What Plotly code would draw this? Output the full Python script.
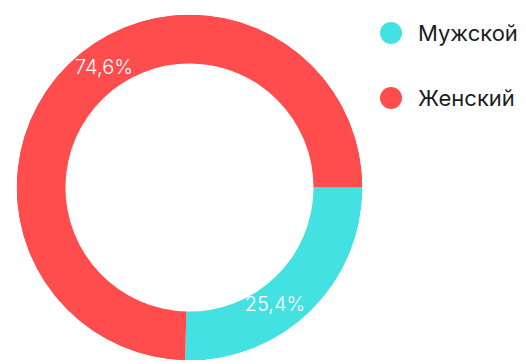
import plotly.graph_objects as go

# data
labels = ["Мужской", "Женский"]
values = [25.4, 74.6]
colors = ["#43E1E1", "#FF4C4C"]

W, H = 526, 364
HOLE = 0.717
LABEL_R = 0.845
LABEL_SHIFT = 8.5  # degrees, labels sit a bit past the slice middle


def px_x(x):
    return x / W


def px_y(y):
    return 1 - y / H


dom = dict(x=[px_x(16.5), px_x(362.5)], y=[px_y(360.5), px_y(14.5)])

# slice geometry from the values (clockwise from 3 o'clock)
total = sum(values)
spans = [v / total * 360 for v in values]
mids, acc = [], 0.0
for s in spans:
    mids.append(acc + s / 2)
    acc += s

fig = go.Figure()
# donut drawn as polar bars so the labels can sit on top
fig.add_trace(go.Barpolar(
    r=[1 - HOLE] * len(values), base=[HOLE] * len(values),
    theta=mids, width=spans,
    marker=dict(color=colors, line=dict(width=0)),
    customdata=labels, hovertemplate="%{customdata}<extra></extra>",
    showlegend=False,
))
fig.add_trace(go.Scatterpolar(
    r=[LABEL_R] * len(values), theta=[m + LABEL_SHIFT for m in mids],
    mode="text",
    text=[f"{v / total * 100:.1f}%".replace(".", ",") for v in values],
    textfont=dict(family="Inter, sans-serif", size=20, color="white", weight=300),
    hoverinfo="skip", showlegend=False,
))

# custom legend with round markers
leg_y = [33, 98]
for lab, col, y in zip(labels, colors, leg_y):
    fig.add_shape(type="circle", xref="paper", yref="paper",
                  x0=px_x(380), x1=px_x(402), y0=px_y(y + 11), y1=px_y(y - 11),
                  fillcolor=col, line=dict(width=0))
    fig.add_annotation(text=lab, xref="paper", yref="paper",
                       x=px_x(416), y=px_y(y), xanchor="left", yanchor="middle",
                       showarrow=False,
                       font=dict(family="Inter, sans-serif", size=22, color="#1c1c1c"))

fig.update_layout(
    width=W, height=H,
    margin=dict(l=0, r=0, t=0, b=0),
    paper_bgcolor="white", plot_bgcolor="white",
    showlegend=False,
    polar=dict(
        domain=dom, bgcolor="rgba(0,0,0,0)", bargap=0,
        radialaxis=dict(visible=False, range=[0, 1], showgrid=False),
        angularaxis=dict(visible=False, rotation=0, direction="clockwise",
                         showgrid=False),
    ),
)

fig.write_html("out.html", config={"displayModeBar": False},
               post_script="document.body.style.margin='0';")
